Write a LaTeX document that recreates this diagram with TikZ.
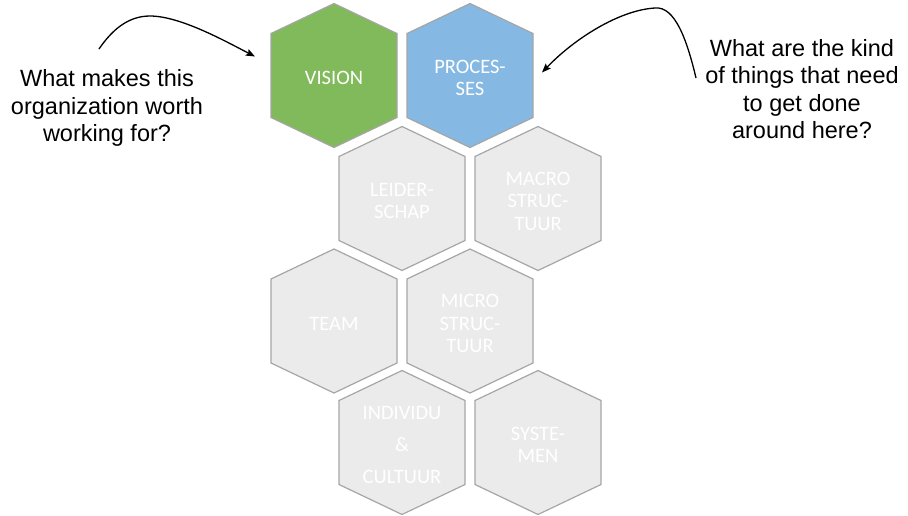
\documentclass[tikz,border=0pt]{standalone}
\usepackage{fontspec}
\setmainfont{Liberation Sans}
\newfontfamily\hexfont{Carlito}
\usetikzlibrary{calc}
\usetikzlibrary{arrows.meta}

\definecolor{visgreen}{HTML}{80BA5A}
\definecolor{procblue}{HTML}{85B8E2}
\definecolor{cellgray}{HTML}{EBEBEB}
\definecolor{cellline}{HTML}{A6A6A6}

\begin{document}
\begin{tikzpicture}[x=1pt,y=-1pt,inner sep=0pt,
  hexline/.style={draw=cellline,line width=1.2pt},
  hextext/.style={text=white,align=center,yshift=-2.5pt,font=\hexfont\fontsize{20.5}{22.5}\selectfont},
  question/.style={align=center,font=\fontsize{23.5}{27.5}\selectfont},
  qarrow/.style={line width=1.3pt,-{Stealth[length=9pt,width=7pt,inset=1.5pt]}}]
\useasboundingbox (0,0) rectangle (908,515);
\def\hexcell#1#2#3#4{%
  \draw[hexline,fill=#3,shift={#2}] (0,-72) -- (63,-42) -- (63,42) -- (0,72) -- (-63,42) -- (-63,-42) -- cycle;
  \node[hextext] (#1) at #2 {#4};}

\hexcell{vision}{(334,75.5)}{visgreen}{VISION}
\hexcell{proc}{(470,75.5)}{procblue}{PROCES-\\SES}
\hexcell{leider}{(402,198.5)}{cellgray}{LEIDER-\\SCHAP}
\hexcell{macro}{(538,198.5)}{cellgray}{MACRO\\STRUC-\\TUUR}
\hexcell{team}{(334,321)}{cellgray}{TEAM}
\hexcell{micro}{(470,321)}{cellgray}{MICRO\\STRUC-\\TUUR}
\hexcell{indiv}{(402,442.5)}{cellgray}{INDIVIDU\\[9.5pt]\&\\[9.5pt]CULTUUR}
\hexcell{syst}{(538,442.5)}{cellgray}{SYSTE-\\MEN}

\node[question] (qleft) at (107,108) {What makes this\\organization worth\\working for?};
\node[question] (qright) at (802,89) {What are the kind\\of things that need\\to get done\\around here?};

\coordinate (lfrom) at ($(qleft)+(-8,-59)$);
\coordinate (lto) at ($(vision)+(-79,-21.5)$);
\coordinate (rfrom) at ($(qright)+(-106,-11)$);
\coordinate (rto) at ($(proc)+(72,-5.5)$);

\draw[qarrow] (lfrom) .. controls (112,30) and (128,16) .. (150,16)
  .. controls (180,16) and (225,41) .. (lto);
\draw[qarrow] (rfrom) .. controls (687,40) and (675,6) .. (655,8)
  .. controls (620,10) and (575,38) .. (rto);
\end{tikzpicture}
\end{document}
